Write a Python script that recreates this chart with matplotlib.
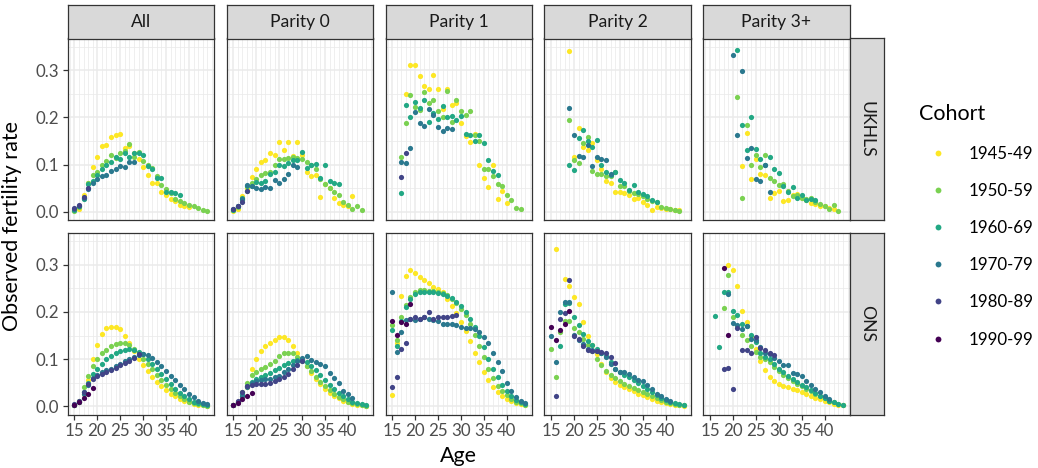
import numpy as np
import matplotlib
matplotlib.use("Agg")
import matplotlib.pyplot as plt
from matplotlib.lines import Line2D

plt.rcParams['font.family'] = ['Lato', 'DejaVu Sans']

# ---------------- data ----------------
COHORTS = ['1945-49', '1950-59', '1960-69', '1970-79', '1980-89', '1990-99']
COLORS = ['#FDE725', '#7AD151', '#22A884', '#2A788E', '#414487', '#440154']
PARITIES = ['All', 'Parity 0', 'Parity 1', 'Parity 2', 'Parity 3+']
SOURCES = ['UKHLS', 'ONS']
X_TICKS = [15, 20, 25, 30, 35, 40]
Y_TICKS = [0.0, 0.1, 0.2, 0.3]
Y_TICK_LABELS = ['0.0', '0.1', '0.2', '0.3']
X_LABEL = 'Age'
Y_LABEL = 'Observed fertility rate'
LEGEND_TITLE = 'Cohort'

# each series: (first age, rates at consecutive single years of age)
# --- UKHLS, All ---
uk_all_1945 = (15, [0.003, 0.005, 0.035, 0.06, 0.095, 0.117, 0.139, 0.142, 0.158, 0.162, 0.164, 0.136,
                    0.14, 0.125, 0.111, 0.095, 0.079, 0.06, 0.06, 0.042, 0.035, 0.026, 0.022, 0.015,
                    0.012, 0.01])
uk_all_1950 = (15, [0.002, 0.01, 0.03, 0.06, 0.078, 0.084, 0.10, 0.107, 0.12, 0.115, 0.124, 0.128,
                    0.143, 0.117, 0.126, 0.107, 0.10, 0.093, 0.075, 0.057, 0.049, 0.039, 0.028, 0.022,
                    0.019, 0.014, 0.012, 0.008, 0.004, 0.002])
uk_all_1960 = (15, [0.004, 0.012, 0.028, 0.058, 0.065, 0.078, 0.09, 0.10, 0.105, 0.116, 0.112, 0.125,
                    0.117, 0.124, 0.125, 0.121, 0.098, 0.09, 0.071, 0.071, 0.042, 0.042, 0.04, 0.035])
uk_all_1970 = (15, [0.005, 0.013, 0.03, 0.049, 0.06, 0.07, 0.075, 0.078, 0.087, 0.09, 0.097, 0.094,
                    0.105, 0.105])
uk_all_1980 = (15, [0.007, 0.014, 0.032, 0.05])
# --- UKHLS, Parity 0 ---
uk_p0_1945 = (15, [0.002, 0.005, 0.033, 0.05, 0.073, 0.09, 0.106, 0.109, 0.124, 0.121, 0.148, 0.131,
                   0.149, 0.118, 0.148, 0.12, 0.085, 0.076, 0.078, 0.032, 0.058, 0.05, 0.03, 0.019,
                   0.015, 0.012, 0.033])
uk_p0_1950 = (15, [0.003, 0.01, 0.025, 0.045, 0.061, 0.07, 0.078, 0.082, 0.085, 0.10, 0.111, 0.112,
                   0.114, 0.117, 0.114, 0.111, 0.105, 0.10, 0.09, 0.07, 0.058, 0.051, 0.042, 0.035,
                   0.02, 0.014, 0.005, 0.012, 0.003])
uk_p0_1960 = (15, [0.003, 0.012, 0.03, 0.054, 0.055, 0.064, 0.06, 0.065, 0.08, 0.084, 0.10, 0.098,
                   0.103, 0.11, 0.11, 0.126, 0.093, 0.10, 0.102, 0.072, 0.10, 0.065, 0.061, 0.059])
uk_p0_1970 = (15, [0.005, 0.013, 0.026, 0.056, 0.054, 0.051, 0.049, 0.052, 0.051, 0.068, 0.062, 0.07,
                   0.081, 0.10, 0.095])
uk_p0_1980 = (15, [0.005, 0.012, 0.02, 0.044])
# --- UKHLS, Parity 1 ---
uk_p1_1945 = (18, [0.249, 0.312, 0.311, 0.287, 0.266, 0.26, 0.29, 0.26, 0.219, 0.26, 0.226, 0.23,
                   0.189, 0.16, 0.148, 0.164, 0.10, 0.072, 0.052, 0.10, 0.026, 0.044, 0.019])
uk_p1_1950 = (17, [0.117, 0.189, 0.247, 0.222, 0.215, 0.254, 0.23, 0.238, 0.213, 0.20, 0.256, 0.19,
                   0.237, 0.213, 0.205, 0.213, 0.162, 0.15, 0.09, 0.091, 0.075, 0.059, 0.054, 0.035,
                   0.024, 0.008, 0.005])
uk_p1_1960 = (17, [0.04, 0.227, 0.20, 0.232, 0.22, 0.237, 0.19, 0.21, 0.197, 0.224, 0.20, 0.203,
                   0.195, 0.204, 0.165, 0.162, 0.151, 0.162, 0.145, 0.109, 0.086, 0.079])
uk_p1_1970 = (17, [0.106, 0.104, 0.136, 0.211, 0.189, 0.181, 0.217, 0.206, 0.18, 0.171, 0.178, 0.176])
uk_p1_1980 = (17, [0.073, 0.125])
# --- UKHLS, Parity 2 ---
uk_p2_1945 = (19, [0.342, 0.116, 0.177, 0.138, 0.13, 0.146, 0.11, 0.09, 0.065, 0.06, 0.042, 0.042,
                   0.04, 0.035, 0.028, 0.03, 0.02, 0.015, 0.004, 0.01, 0.007, 0.006, 0.005, 0.004, 0.003])
uk_p2_1950 = (19, [0.194, 0.11, 0.104, 0.145, 0.159, 0.086, 0.081, 0.081, 0.076, 0.076, 0.084, 0.054,
                   0.054, 0.044, 0.04, 0.037, 0.033, 0.026, 0.023, 0.02, 0.01, 0.007, 0.005, 0.003, 0.002])
uk_p2_1960 = (19, [0.10, 0.088, 0.157, 0.174, 0.15, 0.138, 0.152, 0.10, 0.085, 0.077, 0.084, 0.067,
                   0.06, 0.046, 0.056, 0.042, 0.038, 0.033, 0.024, 0.02])
uk_p2_1970 = (19, [0.22, 0.162, 0.118, 0.117, 0.141, 0.098, 0.116, 0.111, 0.109, 0.081])
# --- UKHLS, Parity 3+ ---
uk_p3_1945 = (22, [0.098, 0.166, 0.07, 0.111, 0.081, 0.077, 0.03, 0.039, 0.045, 0.023, 0.025, 0.035,
                   0.037, 0.03, 0.025, 0.019, 0.016, 0.013, 0.012, 0.008, 0.005])
uk_p3_1950 = (21, [0.244, 0.03, 0.184, 0.099, 0.12, 0.095, 0.121, 0.072, 0.065, 0.056, 0.059, 0.045,
                   0.033, 0.035, 0.03, 0.028, 0.03, 0.02, 0.016, 0.012, 0.005, 0.014, 0.001])
uk_p3_1960 = (21, [0.343, 0.184, 0.131, 0.201, 0.133, 0.112, 0.10, 0.117, 0.09, 0.083, 0.055, 0.042,
                   0.053, 0.03, 0.035, 0.025, 0.028, 0.025])
uk_p3_1970 = (20, [0.333, 0.162, 0.298, 0.113, 0.136, 0.069, 0.066, 0.099, 0.042])

# --- ONS, All ---
ons_all_1945 = (15, [0.002, 0.008, 0.025, 0.055, 0.10, 0.129, 0.154, 0.165, 0.169, 0.169, 0.163, 0.15,
                     0.135, 0.118, 0.101, 0.087, 0.074, 0.062, 0.052, 0.043, 0.034, 0.027, 0.021, 0.016,
                     0.012, 0.008, 0.005, 0.003, 0.002, 0.001])
ons_all_1950 = (15, [0.003, 0.012, 0.04, 0.065, 0.085, 0.10, 0.112, 0.12, 0.127, 0.132, 0.135, 0.134,
                     0.13, 0.122, 0.112, 0.10, 0.09, 0.078, 0.066, 0.055, 0.045, 0.036, 0.028, 0.021,
                     0.015, 0.01, 0.006, 0.004, 0.002, 0.001])
ons_all_1960 = (15, [0.002, 0.01, 0.03, 0.05, 0.068, 0.08, 0.09, 0.10, 0.107, 0.113, 0.118, 0.12,
                     0.121, 0.12, 0.116, 0.11, 0.101, 0.09, 0.08, 0.069, 0.058, 0.047, 0.037, 0.028,
                     0.021, 0.015, 0.01, 0.006, 0.004, 0.002])
ons_all_1970 = (15, [0.002, 0.008, 0.025, 0.045, 0.06, 0.067, 0.072, 0.076, 0.08, 0.085, 0.09, 0.095,
                     0.10, 0.105, 0.109, 0.11, 0.108, 0.102, 0.094, 0.086, 0.075, 0.065, 0.055, 0.045,
                     0.036, 0.027, 0.019, 0.012, 0.007, 0.004])
ons_all_1980 = (15, [0.004, 0.012, 0.03, 0.048, 0.058, 0.065, 0.069, 0.073, 0.077, 0.082, 0.087, 0.092,
                     0.097, 0.103, 0.111])
ons_all_1990 = (15, [0.002, 0.009, 0.018, 0.027, 0.039])
# --- ONS, Parity 0 ---
ons_p0_1945 = (15, [0.002, 0.008, 0.02, 0.04, 0.08, 0.10, 0.117, 0.128, 0.135, 0.141, 0.147, 0.147,
                    0.14, 0.128, 0.114, 0.10, 0.085, 0.07, 0.058, 0.047, 0.037, 0.029, 0.022, 0.017,
                    0.012, 0.008, 0.005, 0.003, 0.002, 0.001])
ons_p0_1950 = (15, [0.002, 0.01, 0.03, 0.05, 0.066, 0.073, 0.078, 0.083, 0.09, 0.097, 0.106, 0.112,
                    0.113, 0.112, 0.105, 0.096, 0.085, 0.074, 0.063, 0.052, 0.043, 0.034, 0.027, 0.02,
                    0.015, 0.01, 0.007, 0.004, 0.002, 0.001])
ons_p0_1960 = (15, [0.002, 0.01, 0.025, 0.042, 0.052, 0.058, 0.062, 0.066, 0.071, 0.076, 0.082, 0.087,
                    0.091, 0.095, 0.098, 0.099, 0.094, 0.086, 0.076, 0.066, 0.055, 0.045, 0.036, 0.028,
                    0.021, 0.015, 0.01, 0.007, 0.004, 0.002])
ons_p0_1970 = (15, [0.002, 0.008, 0.022, 0.04, 0.05, 0.053, 0.055, 0.057, 0.058, 0.061, 0.065, 0.072,
                    0.08, 0.088, 0.096, 0.103, 0.106, 0.098, 0.093, 0.09, 0.085, 0.07, 0.06, 0.049,
                    0.032, 0.025, 0.018])
ons_p0_1980 = (15, [0.003, 0.012, 0.03, 0.044, 0.045, 0.047, 0.047, 0.048, 0.05, 0.053, 0.057, 0.062,
                    0.069, 0.078, 0.088, 0.097])
ons_p0_1990 = (15, [0.002, 0.007, 0.016, 0.022, 0.028])
# --- ONS, Parity 1 ---
ons_p1_1945 = (15, [0.023, 0.135, 0.234, 0.276, 0.29, 0.282, 0.275, 0.267, 0.261, 0.254, 0.249, 0.242,
                    0.227, 0.212, 0.198, 0.179, 0.159, 0.138, 0.114, 0.093, 0.073, 0.055, 0.041, 0.03,
                    0.022, 0.016, 0.011, 0.007, 0.004, 0.002])
ons_p1_1950 = (15, [0.172, 0.14, 0.189, 0.214, 0.232, 0.242, 0.246, 0.246, 0.245, 0.244, 0.243, 0.241,
                    0.235, 0.228, 0.218, 0.206, 0.193, 0.175, 0.152, 0.128, 0.105, 0.08, 0.06, 0.044,
                    0.032, 0.023, 0.015, 0.01, 0.006, 0.003])
ons_p1_1960 = (15, [0.162, 0.128, 0.18, 0.21, 0.228, 0.238, 0.242, 0.243, 0.243, 0.242, 0.241, 0.238,
                    0.234, 0.229, 0.222, 0.212, 0.20, 0.186, 0.168, 0.148, 0.126, 0.10, 0.08, 0.062,
                    0.046, 0.032, 0.022, 0.014, 0.009, 0.005])
ons_p1_1970 = (15, [0.242, 0.115, 0.157, 0.184, 0.186, 0.184, 0.186, 0.189, 0.185, 0.183, 0.18, 0.174,
                    0.174, 0.174, 0.172, 0.168, 0.167, 0.165, 0.163, 0.158, 0.147, 0.135, 0.112, 0.094,
                    0.074, 0.05, 0.033, 0.02, 0.012, 0.006])
ons_p1_1980 = (15, [0.04, 0.061, 0.121, 0.135, 0.186, 0.189, 0.186, 0.189, 0.20, 0.186, 0.189, 0.189,
                    0.19, 0.191, 0.194])
ons_p1_1990 = (15, [0.181, 0.152, 0.179, 0.175, 0.216])
# --- ONS, Parity 2 ---
ons_p2_1945 = (16, [0.334, np.nan, 0.27, 0.255, 0.232, 0.216, 0.179, 0.15, 0.129, 0.11, 0.09, 0.073,
                    0.059, 0.052, 0.046, 0.041, 0.036, 0.032, 0.027, 0.023, 0.02, 0.016, 0.012, 0.009,
                    0.007, 0.005, 0.003, 0.002, 0.001])
ons_p2_1950 = (15, [0.122, 0.062, 0.157, 0.18, 0.18, 0.165, 0.157, 0.143, 0.13, 0.117, 0.101, 0.087,
                    0.074, 0.066, 0.059, 0.053, 0.048, 0.043, 0.039, 0.034, 0.03, 0.026, 0.022, 0.018,
                    0.014, 0.01, 0.007, 0.005, 0.003, 0.002])
ons_p2_1960 = (17, [0.128, 0.216, 0.218, 0.19, 0.172, 0.154, 0.138, 0.129, 0.122, 0.114, 0.107, 0.094,
                    0.08, 0.073, 0.067, 0.061, 0.055, 0.049, 0.043, 0.037, 0.03, 0.023, 0.018, 0.013,
                    0.009, 0.006, 0.004, 0.002])
ons_p2_1970 = (15, [0.148, 0.093, 0.20, 0.221, 0.222, 0.152, 0.141, 0.133, 0.122, 0.119, 0.117, 0.112,
                    0.105, 0.09, 0.078, 0.073, 0.073, 0.069, 0.062, 0.055, 0.053, 0.046, 0.036, 0.027,
                    0.022, 0.016, 0.011])
ons_p2_1980 = (16, [0.022, 0.186, 0.198, 0.268, 0.15, 0.143, 0.127, 0.119, 0.117, 0.117, 0.115, 0.113,
                    0.105, 0.092])
ons_p2_1990 = (15, [0.169, 0.141, 0.161, 0.175, 0.203])
# --- ONS, Parity 3+ ---
ons_p3_1945 = (19, [0.299, 0.29, 0.255, 0.202, 0.179, 0.15, 0.122, 0.095, 0.076, 0.062, 0.053, 0.048,
                    0.044, 0.041, 0.037, 0.034, 0.03, 0.026, 0.022, 0.018, 0.015, 0.011, 0.008, 0.005,
                    0.003, 0.002])
ons_p3_1950 = (18, [0.208, 0.278, 0.189, 0.17, 0.152, 0.14, 0.128, 0.115, 0.105, 0.10, 0.093, 0.083,
                    0.074, 0.066, 0.059, 0.053, 0.047, 0.042, 0.037, 0.032, 0.027, 0.022, 0.017, 0.012,
                    0.008, 0.005, 0.003])
ons_p3_1960 = (16, [0.191, 0.126, 0.242, 0.242, 0.203, 0.194, 0.175, 0.17, 0.152, 0.136, 0.113, 0.105,
                    0.101, 0.09, 0.08, 0.072, 0.065, 0.058, 0.052, 0.046, 0.04, 0.034, 0.028, 0.022,
                    0.017, 0.012, 0.008, 0.005, 0.003])
ons_p3_1970 = (19, [0.239, 0.177, 0.173, 0.163, 0.17, 0.143, 0.14, 0.125, 0.112, 0.11, 0.102, 0.096,
                    0.088, 0.087, 0.071, 0.069, 0.064, 0.054, 0.045, 0.036, 0.03, 0.022, 0.016])
ons_p3_1980 = (18, [0.08, 0.081, 0.037, 0.165, 0.12, 0.119, 0.114, 0.147, 0.124, 0.119, 0.114, 0.109])
ons_p3_1990 = (18, [0.293, 0.152])

# panel table built from the named series (None = cohort not observed)
PANELS = {
    ('UKHLS', 'All'): [uk_all_1945, uk_all_1950, uk_all_1960, uk_all_1970, uk_all_1980, None],
    ('UKHLS', 'Parity 0'): [uk_p0_1945, uk_p0_1950, uk_p0_1960, uk_p0_1970, uk_p0_1980, None],
    ('UKHLS', 'Parity 1'): [uk_p1_1945, uk_p1_1950, uk_p1_1960, uk_p1_1970, uk_p1_1980, None],
    ('UKHLS', 'Parity 2'): [uk_p2_1945, uk_p2_1950, uk_p2_1960, uk_p2_1970, None, None],
    ('UKHLS', 'Parity 3+'): [uk_p3_1945, uk_p3_1950, uk_p3_1960, uk_p3_1970, None, None],
    ('ONS', 'All'): [ons_all_1945, ons_all_1950, ons_all_1960, ons_all_1970, ons_all_1980, ons_all_1990],
    ('ONS', 'Parity 0'): [ons_p0_1945, ons_p0_1950, ons_p0_1960, ons_p0_1970, ons_p0_1980, ons_p0_1990],
    ('ONS', 'Parity 1'): [ons_p1_1945, ons_p1_1950, ons_p1_1960, ons_p1_1970, ons_p1_1980, ons_p1_1990],
    ('ONS', 'Parity 2'): [ons_p2_1945, ons_p2_1950, ons_p2_1960, ons_p2_1970, ons_p2_1980, ons_p2_1990],
    ('ONS', 'Parity 3+'): [ons_p3_1945, ons_p3_1950, ons_p3_1960, ons_p3_1970, ons_p3_1980, ons_p3_1990],
}

# ---------------- layout ----------------
W, H = 1038, 468
fig = plt.figure(figsize=(W / 100, H / 100), dpi=100)

GRID = '#EBEBEB'
BORDER = '#333333'
STRIP_BG = '#D9D9D9'
TICK_COL = '#4D4D4D'

col_left = 67.7
col_step = 158.9
panel_w = 146.3
row_tops = [38.5, 233.0]
panel_h = 181.5
strip_top = 5.0
strip_right_x = 849.9
strip_right_w = 34.0

XLIM = (13.55, 45.45)
YLIM = (-0.0175, 0.3675)
minor_x = [a for a in range(14, 46) if a not in X_TICKS]
minor_y = [0.05, 0.15, 0.25, 0.35]


def fr(x, y, w, h):
    return [x / W, 1 - (y + h) / H, w / W, h / H]


for r, src in enumerate(SOURCES):
    for c, par in enumerate(PARITIES):
        left = col_left + c * col_step
        ax = fig.add_axes(fr(left, row_tops[r], panel_w, panel_h))
        ax.set_xlim(*XLIM)
        ax.set_ylim(*YLIM)
        ax.set_xticks(X_TICKS)
        ax.set_xticks(minor_x, minor=True)
        ax.set_yticks(Y_TICKS)
        ax.set_yticks(minor_y, minor=True)
        ax.grid(which='major', color=GRID, lw=1.1)
        ax.grid(which='minor', color=GRID, lw=0.55)
        ax.set_axisbelow(True)
        for sp in ax.spines.values():
            sp.set_color(BORDER)
            sp.set_linewidth(0.9)
        ax.tick_params(which='minor', length=0)
        ax.tick_params(which='major', length=3.6, width=0.9, color=BORDER,
                       labelcolor=TICK_COL, labelsize=12.2, pad=2.5)
        if c == 0:
            ax.set_yticklabels(Y_TICK_LABELS)
        else:
            ax.tick_params(axis='y', which='major', length=0, labelleft=False)
        if r == 1:
            ax.set_xticklabels([str(t) for t in X_TICKS])
        else:
            ax.tick_params(axis='x', which='major', length=0, labelbottom=False)

        for series, col in zip(PANELS[(src, par)], COLORS):
            if series is None:
                continue
            start, vals = series
            ages = np.arange(start, start + len(vals))
            ax.scatter(ages, vals, s=14, color=col, linewidths=0, zorder=3)

        # top strips
        if r == 0:
            sax = fig.add_axes(fr(left, strip_top, panel_w, row_tops[0] - strip_top))
            sax.set_facecolor(STRIP_BG)
            sax.set_xticks([]); sax.set_yticks([])
            for sp in sax.spines.values():
                sp.set_color(BORDER); sp.set_linewidth(0.9)
            sax.text(0.5, 0.5, par, ha='center', va='center', fontsize=12.6,
                     color='#1A1A1A', transform=sax.transAxes)
    # right strips
    rax = fig.add_axes(fr(strip_right_x, row_tops[r], strip_right_w, panel_h))
    rax.set_facecolor(STRIP_BG)
    rax.set_xticks([]); rax.set_yticks([])
    for sp in rax.spines.values():
        sp.set_color(BORDER); sp.set_linewidth(0.9)
    rax.text(0.5, 0.5, src, ha='center', va='center', rotation=-90, fontsize=12.6,
             color='#1A1A1A', transform=rax.transAxes)

# axis titles
fig.text((col_left + (col_left + 4 * col_step + panel_w)) / 2 / W, 1 - 461.5 / H, X_LABEL,
         ha='center', va='baseline', fontsize=15.5, color='black')
fig.text(12 / W, 1 - 226 / H, Y_LABEL, rotation=90, ha='center', va='center',
         fontsize=15.5, color='black')

# legend
handles = [Line2D([], [], ls='none', marker='o', markersize=4.2, markerfacecolor=col,
                  markeredgewidth=0) for col in COLORS]
fig.legend(handles, COHORTS, loc='upper left', bbox_to_anchor=(912.5 / W, 1 - 97.7 / H),
           frameon=False, title=LEGEND_TITLE, title_fontsize=15.5, fontsize=12.2,
           alignment='left', handlelength=2.2, handletextpad=0.72, labelspacing=1.25,
           borderaxespad=0, borderpad=0.4)

fig.savefig('out.png', dpi=100)
